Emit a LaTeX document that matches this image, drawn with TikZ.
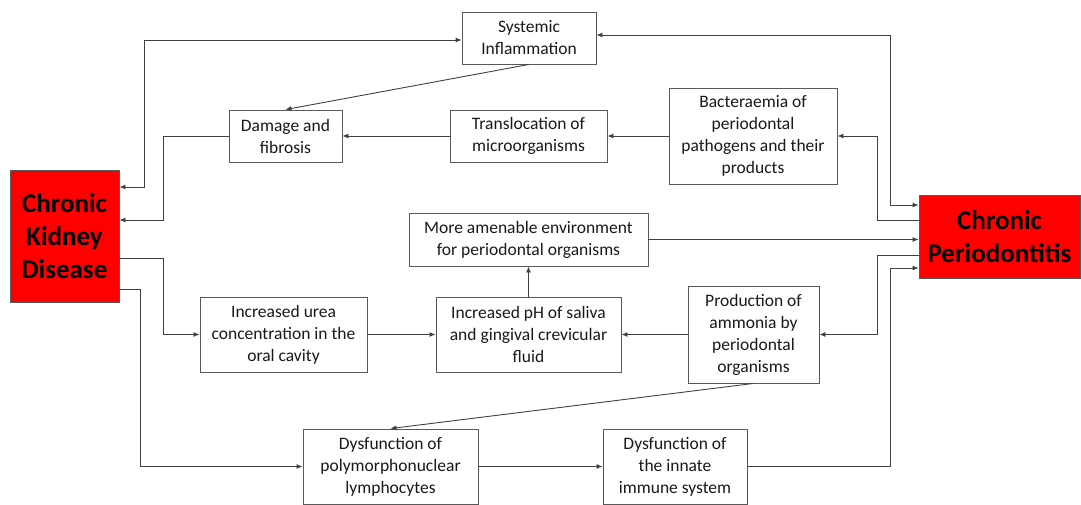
\documentclass[tikz,border=0pt]{standalone}
\usepackage{fontspec}
\setmainfont{Carlito}
\usetikzlibrary{arrows.meta}
\definecolor{ln}{HTML}{404040}
\definecolor{bx}{HTML}{595959}
\tikzset{
  box/.style={draw=bx, line width=0.9pt, fill=white, inner sep=0pt, align=center,
    font=\fontsize{17.5}{22}\selectfont, text=black!90},
  big/.style={draw=bx, line width=0.9pt, fill=red, inner sep=0pt, align=center,
    font=\fontsize{27}{33}\selectfont\bfseries, text=black},
  arr/.style={draw=ln, line width=0.9pt, -{Latex[length=6pt,width=5pt]}},
  arrb/.style={draw=ln, line width=0.9pt, {Latex[length=6pt,width=5pt]}-{Latex[length=6pt,width=5pt]}}
}
\begin{document}
\begin{tikzpicture}[x=1pt,y=1pt]
\useasboundingbox (0,0) rectangle (1081,-505);
% nodes
\node[box, minimum width=134pt, minimum height=52pt] (sys) at (529,-38) {Systemic\\Inflammation};
\node[box, minimum width=113pt, minimum height=52pt] (dmg) at (285.5,-136) {Damage and\\fibrosis};
\node[box, minimum width=157pt, minimum height=52pt] (trans) at (528.5,-136) {Translocation of\\microorganisms};
\node[box, minimum width=168pt, minimum height=96pt] (bact) at (753,-136) {Bacteraemia of\\periodontal\\pathogens and their\\products};
\node[box, minimum width=239pt, minimum height=53pt] (amen) at (528.5,-239.5) {More amenable environment\\for periodontal organisms};
\node[box, minimum width=167pt, minimum height=75pt] (urea) at (283.5,-334.5) {Increased urea\\concentration in the\\oral cavity};
\node[box, minimum width=185pt, minimum height=75pt] (ph) at (528.5,-334.5) {Increased pH of saliva\\and gingival crevicular\\fluid};
\node[box, minimum width=131pt, minimum height=97pt] (amm) at (753.5,-334.5) {Production of\\ammonia by\\periodontal\\organisms};
\node[box, minimum width=175pt, minimum height=75pt] (pmn) at (390.5,-466.5) {Dysfunction of\\polymorphonuclear\\lymphocytes};
\node[box, minimum width=144pt, minimum height=75pt] (inn) at (675,-466.5) {Dysfunction of\\the innate\\immune system};
\node[big, minimum width=109pt, minimum height=132pt] (ckd) at (64.5,-236) {Chronic\\Kidney\\Disease};
\node[big, minimum width=161pt, minimum height=83pt] (cp) at (999.5,-236.5) {Chronic\\Periodontitis};
% connectors
\draw[arrb] (sys.east |- 0,-35) -| (890,-205) -- (cp.west |- 0,-205);
\draw[arrb] (sys.west |- 0,-40) -| (144,-187) -- (ckd.east |- 0,-187);
\draw[arr] (sys.south) -- (dmg.north);
\draw[arr] (trans.west) -- (dmg.east);
\draw[arr] (bact.west) -- (trans.east);
\draw[arr] (cp.west |- 0,-220) -| (877,-136) -- (bact.east);
\draw[arr] (dmg.west) -| (163,-220) -- (ckd.east |- 0,-220);
\draw[arr] (ckd.east |- 0,-258) -| (163,-334.5) -- (urea.west);
\draw[arr] (ckd.east |- 0,-289) -| (140,-466.5) -- (pmn.west);
\draw[arr] (urea.east) -- (ph.west);
\draw[arr] (ph.north) -- (amen.south);
\draw[arr] (amen.east) -- (cp.west |- amen.east);
\draw[arr] (amm.west) -- (ph.east);
\draw[arr] (cp.west |- 0,-255) -| (877,-334.5) -- (amm.east);
\draw[arr] (amm.south) -- (pmn.north);
\draw[arr] (pmn.east) -- (inn.west);
\draw[arr] (inn.east) -| (890,-268) -- (cp.west |- 0,-268);
\end{tikzpicture}
\end{document}
